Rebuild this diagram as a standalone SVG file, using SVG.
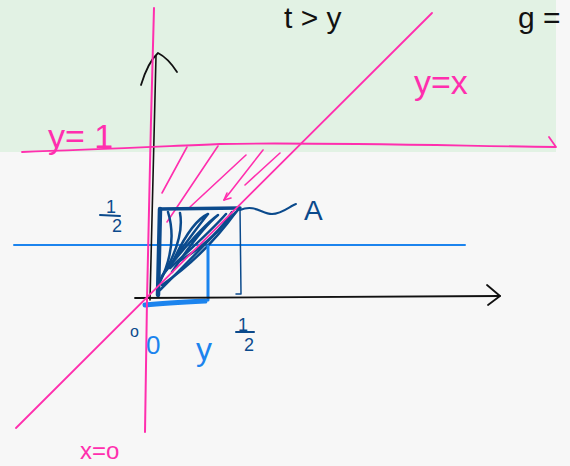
<svg xmlns="http://www.w3.org/2000/svg" width="570" height="466" viewBox="0 0 570 466">
<defs>
<style>
.pk{stroke:#ff2fae;fill:none;stroke-linecap:round;stroke-linejoin:round}
.bk{stroke:#111;fill:none;stroke-linecap:round;stroke-linejoin:round}
.db{stroke:#0b4a8c;fill:none;stroke-linecap:round;stroke-linejoin:round}
.lb{stroke:#1c84ee;fill:none;stroke-linecap:round;stroke-linejoin:round}
.t{font-family:"Liberation Sans","DejaVu Sans",sans-serif}
.tpk{fill:#ff2fae}
.tbk{fill:#111}
.tdb{fill:#0b4a8c}
.tlb{fill:#1c84ee}
</style>
</defs>
<rect x="0" y="0" width="570" height="466" fill="#f7f7f7"/>
<rect x="0" y="0" width="556" height="152" fill="#e2f2e4"/>

<g id="connectors">
  <g class="pk" stroke-width="1.6">
    <path d="M162,193 L187,147"/>
    <path d="M167,222 L218,146"/>
    <path d="M190,207 L246,155"/>
    <path d="M224,200 L263,150"/>
    <path d="M245,185 L280,153"/>
    <path d="M224,200 L227,193 M224,200 L231,198"/>
  </g>
  <path class="lb" d="M14,245 L465,245" stroke-width="2"/>
  <path class="db" d="M160,209 L240,208" stroke-width="3.5"/>
  <path class="db" d="M160,209 L158,295" stroke-width="4.5"/>
  <path class="db" d="M240,208 L241,294 L236,294" stroke-width="1.5"/>
  <g class="db" stroke-width="2.5">
    <path d="M160,290 Q200,250 238,210"/>
    <path d="M162,285 Q205,255 236,212"/>
    <path d="M160,282 Q178,245 168,212"/>
    <path d="M160,280 Q185,240 180,213"/>
    <path d="M162,276 Q195,230 208,214 Q190,222 170,268"/>
    <path d="M165,272 Q200,228 218,215 Q200,230 172,272"/>
    <path d="M170,268 Q210,232 226,214"/>
    <path d="M178,262 Q215,240 232,212"/>
  </g>
  <path class="db" d="M240,210 C255,204 262,214 272,214 C282,214 290,206 296,204" stroke-width="2"/>
  <path class="lb" d="M208,246 L208,300" stroke-width="3"/>
  <path class="lb" d="M145,305 C165,303 185,302 205,301" stroke-width="5"/>
  <path class="bk" d="M135,298 L500,296" stroke-width="1.8"/>
  <path class="bk" d="M487,285 L500,296 L488,305" stroke-width="1.8"/>
  <path class="bk" d="M150,300 L156,56" stroke-width="1.6"/>
  <path class="bk" d="M141,85 Q148,62 158,53 Q168,58 177,72" stroke-width="1.8"/>
  <path class="pk" d="M154,8 L151,120 L147,300 L145,432" stroke-width="2"/>
  <path class="pk" d="M16,428 L432,13" stroke-width="1.8"/>
  <path class="pk" d="M22,152 C90,150 150,147 220,144 C300,142 420,145 556,147 L549,137" stroke-width="1.8"/>
</g>

<g id="top-text">
  <text class="t tbk" x="284" y="28" font-size="30">t &gt; y</text>
  <text class="t tbk" x="518" y="28" font-size="30">g =</text>
</g>
<g id="label-yx"><text class="t tpk" x="414" y="94" font-size="34">y=x</text></g>
<g id="label-y1"><text class="t tpk" x="48" y="148" font-size="34">y= 1</text></g>
<g id="label-x0"><text class="t tpk" x="80" y="459" font-size="24">x=o</text></g>
<g id="label-half-left">
  <text class="t tdb" x="106" y="213" font-size="18">1</text>
  <path class="db" d="M100,215 L120,216" stroke-width="2"/>
  <text class="t tdb" x="112" y="232" font-size="18">2</text>
</g>
<g id="label-A"><text class="t tdb" x="304" y="220" font-size="28">A</text></g>
<g id="label-o-small"><text class="t tdb" x="130" y="337" font-size="16">o</text></g>
<g id="label-0"><text class="t tlb" x="146" y="354" font-size="26">0</text></g>
<g id="label-y"><text class="t tlb" x="196" y="360" font-size="32">y</text></g>
<g id="label-half-bottom">
  <text class="t tdb" x="238" y="331" font-size="18">1</text>
  <path class="db" d="M236,332 L254,332" stroke-width="2"/>
  <text class="t tdb" x="244" y="351" font-size="18">2</text>
</g>
</svg>
